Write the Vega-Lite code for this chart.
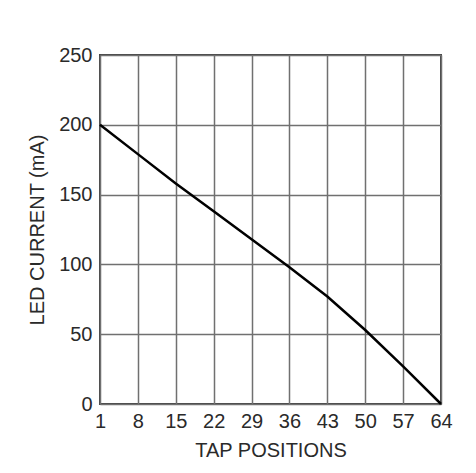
{
  "$schema": "https://vega.github.io/schema/vega-lite/v6.json",
  "autosize": "none",
  "width": 341,
  "height": 349,
  "padding": {"left": 100, "top": 55, "right": 35, "bottom": 69},
  "background": "white",
  "config": {
    "view": {"stroke": "#444", "strokeWidth": 2},
    "axis": {
      "labelFont": "Liberation Sans",
      "titleFont": "Liberation Sans",
      "labelColor": "#2a2a2a",
      "titleColor": "#2a2a2a",
      "titleFontWeight": "normal",
      "gridColor": "#707070",
      "gridWidth": 1.5,
      "gridOpacity": 1,
      "domain": false,
      "ticks": false
    }
  },
  "data": {
    "values": [
      {"tap": 1, "current": 200},
      {"tap": 8, "current": 179},
      {"tap": 15, "current": 158},
      {"tap": 22, "current": 138},
      {"tap": 29, "current": 118},
      {"tap": 36, "current": 98},
      {"tap": 43, "current": 77},
      {"tap": 50, "current": 53},
      {"tap": 57, "current": 27},
      {"tap": 64, "current": 0}
    ]
  },
  "mark": {"type": "line", "color": "#000", "strokeWidth": 2.5},
  "encoding": {
    "x": {
      "field": "tap",
      "type": "quantitative",
      "scale": {"domain": [1, 64], "nice": false, "zero": false},
      "axis": {
        "values": [1, 8, 15, 22, 29, 36, 43, 50, 57, 64],
        "title": "TAP POSITIONS",
        "labelFontSize": 20,
        "titleFontSize": 20,
        "labelPadding": 7,
        "titlePadding": 9,
        "labelFlush": false
      }
    },
    "y": {
      "field": "current",
      "type": "quantitative",
      "scale": {"domain": [0, 250], "nice": false},
      "axis": {
        "values": [0, 50, 100, 150, 200, 250],
        "title": "LED CURRENT (mA)",
        "labelFontSize": 20,
        "titleFontSize": 20,
        "labelPadding": 8,
        "titlePadding": 11,
        "labelFlush": false
      }
    }
  }
}
